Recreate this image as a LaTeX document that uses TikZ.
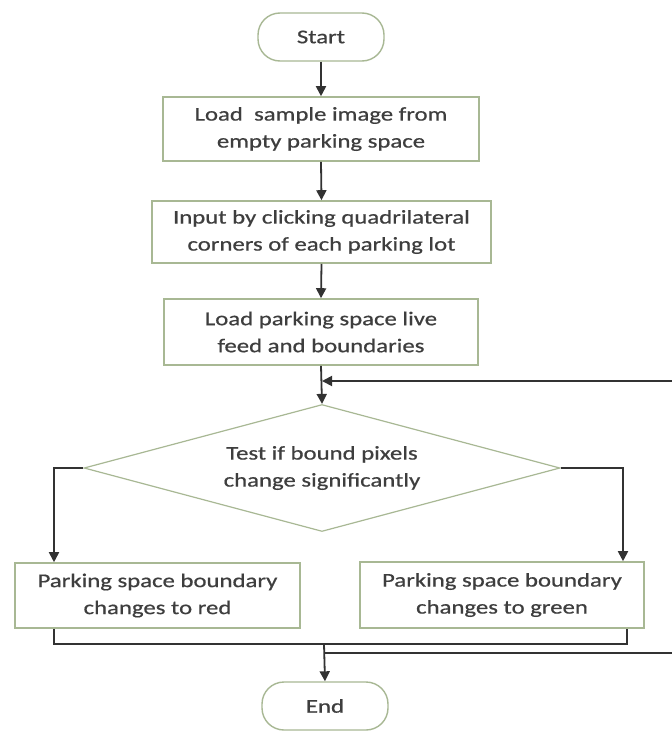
\documentclass[tikz,border=0pt]{standalone}
\usepackage{fontspec}
\setmainfont{Carlito}[FakeStretch=1.27,FakeBold=0.6]
\usetikzlibrary{shapes.geometric,arrows.meta}
\definecolor{boxline}{RGB}{168,184,148}
\definecolor{txt}{RGB}{62,62,62}
\definecolor{arr}{RGB}{50,50,50}
\begin{document}
\begin{tikzpicture}[x=1pt,y=-1pt,
  every node/.style={font=\fontsize{19.5}{27}\selectfont, text=txt, align=center},
  procbox/.style={draw=boxline, line width=1.6pt, fill=white, rectangle, inner sep=0pt},
  term/.style={draw=boxline, line width=1.4pt, rounded corners=22pt, fill=white, inner sep=0pt, minimum width=126pt, minimum height=48pt},
  decision/.style={draw=boxline, line width=1.2pt, diamond, inner sep=0pt, shape aspect=3.75, minimum width=476pt, minimum height=127pt},
  flow/.style={draw=arr, line width=1.8pt, -{Triangle[length=10pt,width=10pt]}},
  link/.style={draw=arr, line width=1.8pt}]
\useasboundingbox (0,0) rectangle (672,731);
\fill[white] (0,0) rectangle (672,731);
\node[term] (start) at (321,37) {Start};
\node[procbox, minimum width=316pt, minimum height=64pt] (b1) at (321,129) {Load\ \ sample image from\\empty parking space};
\node[procbox, minimum width=339pt, minimum height=62pt] (b2) at (321.5,232) {Input by clicking quadrilateral\\corners of each parking lot};
\node[procbox, minimum width=314pt, minimum height=66pt] (b3) at (321,332) {Load parking space live\\feed and boundaries};
\node[decision] (dec) at (322,468) {Test if bound pixels\\change significantly};
\node[procbox, minimum width=285pt, minimum height=65pt] (red) at (157.5,595.5) {Parking space boundary\\changes to red};
\node[procbox, minimum width=284pt, minimum height=66pt] (green) at (502,595) {Parking space boundary\\changes to green};
\node[term] (end) at (325,706) {End};
\coordinate (j1) at (322,381);
\coordinate (j2) at (324,644);
\coordinate (j3) at (324,653);
\coordinate (re) at (675,381);
\coordinate (rb) at (675,653);
\draw[flow] (start.south) -- (b1.north);
\draw[flow] (b1.south) -- (b2.north);
\draw[flow] (b2.south) -- (b3.north);
\draw[flow] (b3.south) -- (dec.north);
\draw[flow] (dec.west) -| ([xshift=-103.5pt]red.north);
\draw[flow] (dec.east) -| ([xshift=121pt]green.north);
\draw[link] ([xshift=-103.5pt]red.south) |- (j2) -| ([xshift=125pt]green.south);
\draw[flow] (j2) -- (end.north);
\draw[link] (j3) -- (rb) -- (re);
\draw[flow] (re) -- (j1);
\end{tikzpicture}
\end{document}
